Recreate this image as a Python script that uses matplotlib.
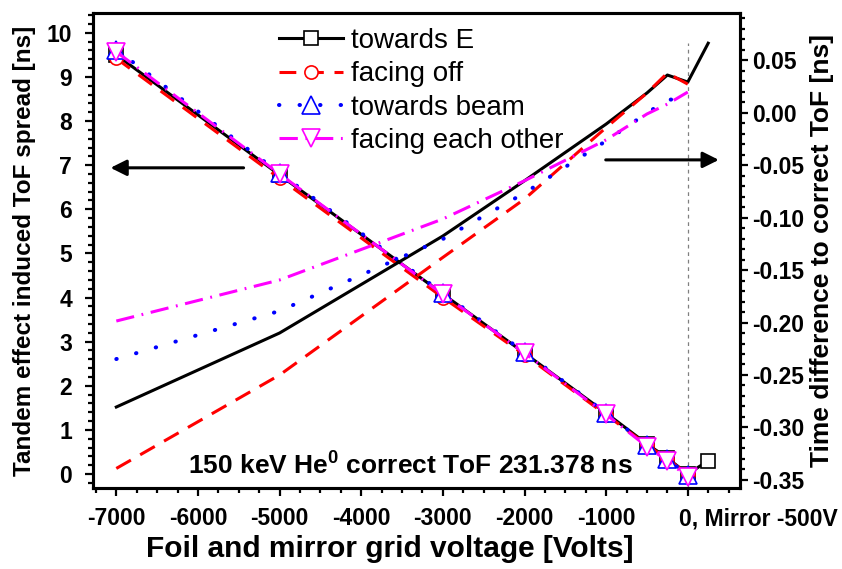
import matplotlib
matplotlib.use('Agg')
import matplotlib.pyplot as plt
from matplotlib.ticker import MultipleLocator, FixedLocator, FixedFormatter

plt.rcParams['font.family'] = ['Liberation Sans', 'DejaVu Sans']
plt.rcParams['axes.unicode_minus'] = False
plt.rcParams['mathtext.fontset'] = 'custom'
plt.rcParams['mathtext.rm'] = 'Liberation Sans:bold'
plt.rcParams['mathtext.bf'] = 'Liberation Sans:bold'

# ---------------- data ----------------
voltages = [-7000, -5000, -3000, -2000, -1000, -500, -250, 0]
voltages_E = [-7000, -5000, -3000, -2000, -1000, -500, -250, 0, 250]

series_names = ["towards E", "facing off", "towards beam", "facing each other"]

# left axis: Tandem effect induced ToF spread [ns]
spread_towards_E = [9.50, 6.78, 4.08, 2.74, 1.38, 0.68, 0.36, 0.00, 0.30]
spread_facing_off = [9.42, 6.70, 4.00, 2.70, 1.34, 0.66, 0.34, 0.00]
spread_towards_beam = [9.62, 6.82, 4.10, 2.76, 1.38, 0.66, 0.33, -0.02]
spread_facing_each = [9.57, 6.80, 4.07, 2.74, 1.35, 0.62, 0.30, -0.07]

# right axis: Time difference to correct ToF [ns]
diff_towards_E = [-0.2805, -0.210, -0.1176, -0.065, -0.011, 0.0186, 0.0357, 0.029, 0.066]
diff_facing_off = [-0.339, -0.250, -0.138, -0.0824, -0.0143, 0.0186, 0.0376, 0.027]
diff_towards_beam = [-0.2348, -0.189, -0.1205, -0.0767, -0.027, -0.0005, 0.012, 0.0138]
diff_facing_each = [-0.1986, -0.1595, -0.1014, -0.065, -0.026, -0.0014, 0.008, 0.0195]

x_major_ticks = [-7000, -6000, -5000, -4000, -3000, -2000, -1000, 0]
x_tick_labels = ["-7000", "-6000", "-5000", "-4000", "-3000", "-2000", "-1000", ""]
zero_label = "0, Mirror -500V"
annotation = "150 keV He$^{\\mathbf{0}}$ correct ToF 231.378 ns"

# ---------------- figure ----------------
fig = plt.figure(figsize=(8.42, 5.69), dpi=100)
ax = fig.add_axes([0.1105, 0.1424, 0.7684, 0.8348])
ax2 = ax.twinx()

styles = [
    dict(color='black', linestyle='-', marker='s', markersize=9.5, lw=2.2),
    dict(color='red', linestyle=(0, (5.5, 3.5)), marker='o', markersize=9.5, lw=2.2),
    dict(color='blue', linestyle=(0, (0.1, 5.0)), marker='^', markersize=12.5,
         dash_capstyle='round', lw=2.9),
    dict(color='magenta', linestyle=(0, (6, 2.5, 0.6, 2.5)), marker='v', markersize=12.5, lw=2.2),
]

left_data = [(voltages_E, spread_towards_E), (voltages, spread_facing_off),
             (voltages, spread_towards_beam), (voltages, spread_facing_each)]
right_data = [(voltages_E, diff_towards_E), (voltages, diff_facing_off),
              (voltages, diff_towards_beam), (voltages, diff_facing_each)]

handles = []
for (xv, yv), st, name in zip(left_data, styles, series_names):
    h, = ax.plot(xv, yv, markerfacecolor='white', markeredgecolor=st['color'],
                 markeredgewidth=1.2, label=name, **st)
    handles.append(h)

for (xv, yv), st in zip(right_data, styles):
    kw = {k: v for k, v in st.items() if k not in ('marker', 'markersize')}
    ax2.plot(xv, yv, **kw)

# limits
ax.set_xlim(-7285, 640)
ax.set_ylim(-0.317, 10.45)
ax2.set_ylim(-0.3576, 0.0948)

# vertical dotted line at 0
ax.plot([0, 0], [-0.317, 9.77], color='gray', lw=0.9, linestyle=(0, (3, 3)), zorder=1)

# ticks
ax.xaxis.set_major_locator(FixedLocator(x_major_ticks))
ax.xaxis.set_major_formatter(FixedFormatter(x_tick_labels))
ax.xaxis.set_minor_locator(MultipleLocator(250))
ax.yaxis.set_major_locator(MultipleLocator(1))
ax.yaxis.set_minor_locator(MultipleLocator(0.2))
ax2.yaxis.set_major_locator(MultipleLocator(0.05))
ax2.yaxis.set_minor_locator(MultipleLocator(0.01))
ax2.yaxis.set_major_formatter(matplotlib.ticker.FormatStrFormatter('%.2f'))

for a in (ax, ax2):
    for sp in a.spines.values():
        sp.set_linewidth(2.2)

ax.tick_params(axis='x', which='major', direction='out', length=6, width=1.6,
               labelsize=16.5, pad=8, top=False)
ax.tick_params(axis='x', which='minor', direction='out', length=3.5, width=1.6, top=False)
ax.tick_params(axis='y', which='major', direction='out', length=6, width=1.6,
               labelsize=16.5, pad=9, right=False)
ax.tick_params(axis='y', which='minor', direction='out', length=3.5, width=1.6, right=False)
ax2.tick_params(axis='y', which='major', direction='out', length=6, width=1.6,
                labelsize=16.5, pad=3)
ax2.tick_params(axis='y', which='minor', direction='out', length=3.5, width=1.6)

for lab in ax.get_xticklabels() + ax.get_yticklabels() + ax2.get_yticklabels():
    lab.set_fontweight('bold')

ax.annotate(zero_label, xy=(0, 0), xycoords=('data', 'axes fraction'),
            xytext=(-6, -14), textcoords='offset points', ha='left', va='top',
            fontsize=16.5, fontweight='bold')

# axis labels
ax.set_xlabel("Foil and mirror grid voltage [Volts]", fontsize=21.5, fontweight='bold')
ax.xaxis.set_label_coords(0.459, -0.098)
ax.set_ylabel("Tandem effect induced ToF spread [ns]", fontsize=17.5, fontweight='bold')
ax.yaxis.set_label_coords(-0.088, 0.5)
ax2.set_ylabel("Time difference to correct ToF [ns]", fontsize=19, fontweight='bold')
ax2.yaxis.set_label_coords(1.108, 0.5)

# arrows
ax.annotate("", xy=(-7071, 6.94), xytext=(-5441, 6.94),
            arrowprops=dict(arrowstyle='-|>', color='black', lw=2.2,
                            mutation_scale=24, shrinkA=0, shrinkB=0))
ax.annotate("", xy=(380, 7.12), xytext=(-1005, 7.12),
            arrowprops=dict(arrowstyle='-|>', color='black', lw=2.2,
                            mutation_scale=24, shrinkA=0, shrinkB=0))

# annotation text
ax.text(0.49, 0.0295, annotation, transform=ax.transAxes, ha='center', va='baseline',
        fontsize=19, fontweight='bold')

# legend
leg = ax2.legend(handles, series_names, loc='upper left', bbox_to_anchor=(0.287, 0.968),
                 frameon=False, fontsize=20, handlelength=2.3, handletextpad=0.3,
                 labelspacing=0.26, borderaxespad=0, borderpad=0, numpoints=1)

fig.savefig('out.png', dpi=100)
